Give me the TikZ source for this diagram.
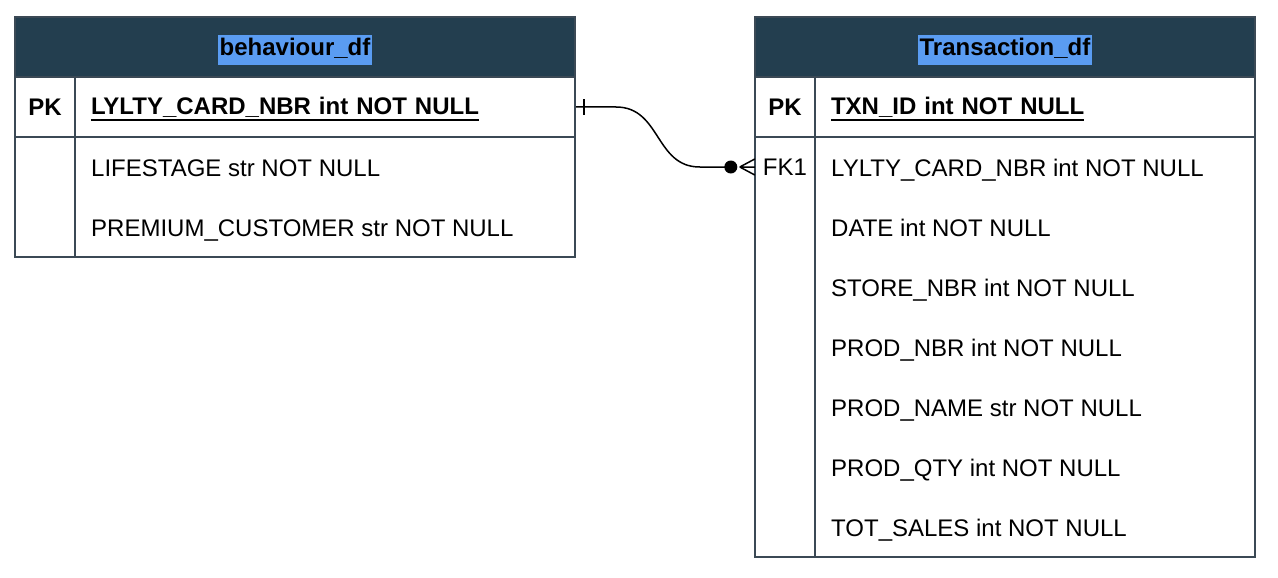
\documentclass[tikz,border=0pt]{standalone}
\usepackage{fontspec}
\setmainfont{Liberation Sans}
\usetikzlibrary{calc}
\definecolor{hdrbg}{HTML}{233E4F}
\definecolor{edge}{HTML}{3B4955}
\definecolor{hlblue}{HTML}{5A9CF2}
\newcommand{\bigtxt}{\fontsize{24}{28}\selectfont}
\newcommand{\ulkey}[1]{\leavevmode\vtop{\hbox{#1}\kern2.5pt\hrule height 1.6pt}}
\tikzset{tbl/.style={draw=edge,line width=2pt},
hdr/.style={draw=edge,line width=2pt,fill=hdrbg,inner sep=0pt,minimum height=60pt},
ttl/.style={fill=hlblue,font=\bigtxt\bfseries,inner xsep=2pt,inner ysep=3pt,text height=18pt,text depth=6pt},
cell/.style={draw=edge,line width=2pt,inner sep=0pt,minimum height=60pt,font=\bigtxt},
fcell/.style={cell,inner xsep=16pt,align=left,text height=18pt,text depth=4pt},
fld/.style={anchor=base west,inner sep=0pt,font=\bigtxt},
rel/.style={line width=1.5pt}}
\begin{document}
\begin{tikzpicture}[x=1pt,y=-1pt]
\useasboundingbox (0,0) rectangle (1278,578);
\node[hdr,minimum width=560pt] (bhdr) at (295,47) {}; \node[ttl] (btitle) at ($(bhdr)+(0,3)$) {behaviour\_df};
\node[cell,minimum width=60pt,font=\bigtxt\bfseries] (bpk) at (45,107) {PK};
\node[fcell,minimum width=500pt,text width=468pt] (bpkf) at (325,107) {\bfseries\ulkey{LYLTY\_CARD\_NBR int NOT NULL}};
\draw[tbl] (15,137) rectangle (575,257); \draw[tbl] (75,137) -- (75,257);
\node[fld] (blife) at (91,176) {LIFESTAGE str NOT NULL};
\node[fld] (bprem) at (91,236) {PREMIUM\_CUSTOMER str NOT NULL};
\node[hdr,minimum width=500pt] (thdr) at (1005,47) {}; \node[ttl] (ttitle) at ($(thdr)+(0,3)$) {Transaction\_df};
\node[cell,minimum width=60pt,font=\bigtxt\bfseries] (tpk) at (785,107) {PK};
\node[fcell,minimum width=440pt,text width=408pt] (tpkf) at (1035,107) {\bfseries\ulkey{TXN\_ID int NOT NULL}};
\draw[tbl] (755,137) rectangle (1255,557); \draw[tbl] (815,137) -- (815,557);
\node[inner sep=0pt,minimum width=60pt,minimum height=60pt,font=\bigtxt] (tfk) at (785,167) {FK1};
\node[fld] (tcard) at (831,176) {LYLTY\_CARD\_NBR int NOT NULL};
\node[fld] (tdate) at (831,236) {DATE int NOT NULL};
\node[fld] (tstore) at (831,296) {STORE\_NBR int NOT NULL};
\node[fld] (tprod) at (831,356) {PROD\_NBR int NOT NULL};
\node[fld] (tname) at (831,416) {PROD\_NAME str NOT NULL};
\node[fld] (tqty) at (831,476) {PROD\_QTY int NOT NULL};
\node[fld] (tsales) at (831,536) {TOT\_SALES int NOT NULL};
\draw[rel] (bpkf.east) -- ++(40,0) .. controls +(45,0) and +(-45,0) .. ($(tfk.west)+(-55,0)$) -- ($(tfk.west)+(-24,0)$);
\draw[rel] ($(bpkf.east)+(8,-7.5)$) -- ++(0,15);
\fill ($(tfk.west)+(-24,0)$) circle (6.5);
\draw[rel] ($(tfk.west)+(-15,0)$) -- ($(tfk.west)+(0,-8)$) ($(tfk.west)+(-15,0)$) -- (tfk.west) ($(tfk.west)+(-15,0)$) -- ($(tfk.west)+(0,8)$);
\end{tikzpicture}
\end{document}
